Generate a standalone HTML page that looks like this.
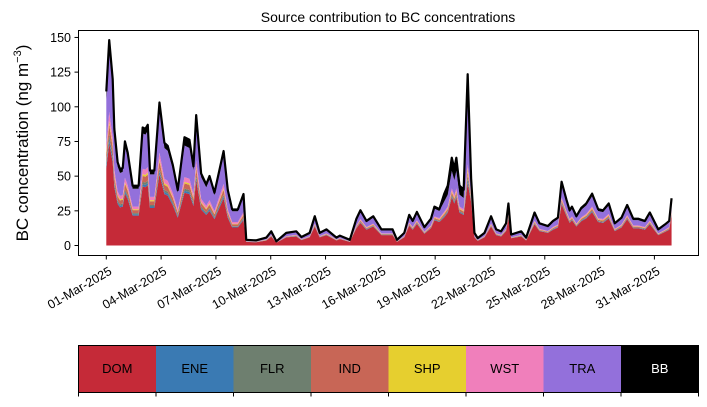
<!DOCTYPE html>
<html><head><meta charset="utf-8"><style>
body{margin:0;background:#fff;}
svg text{font-family:"Liberation Sans","DejaVu Sans",sans-serif;}
</style></head><body>
<svg id="chart" width="707" height="402" viewBox="0 0 707 402" xmlns="http://www.w3.org/2000/svg">
<text x="388" y="22" font-size="14" text-anchor="middle">Source contribution to BC concentrations</text>
<g id="areas"></g>
<g id="yaxis"></g>
<g id="xaxis"></g>
<rect x="78.5" y="30.5" width="620" height="225" fill="none" stroke="#000" stroke-width="1"/>
<text transform="translate(28,143) rotate(-90)" font-size="17" text-anchor="middle">BC concentration (ng m<tspan font-size="11" dy="-7">−3</tspan><tspan dy="7">)</tspan></text>
<g id="legend"></g>
</svg>
<script>
const tEarly=[0,0.16,0.35,0.44,0.62,0.75,0.90,1.02,1.17,1.44,1.77,1.99,2.14,2.27,2.39,2.63,2.91,3.18,3.36,3.64,3.91,4.28,4.55,4.77,4.92,5.19,5.47,5.65,5.92,6.42,6.65,6.89,7.20,7.51];
const tLate=[7.66,8.21,8.76,9.03,9.31,9.85,10.40,10.68,11.13,11.41,11.68,12.05,12.60,12.78,13.33,13.69,13.91,14.24,14.61,15.06,15.67,15.91,16.31,16.58,16.77,17.00,17.41,17.77,17.96,18.23,18.50,18.69,18.91,19.05,19.16,19.33,19.56,19.78,19.97,20.15,20.33,20.70,21.06,21.34,21.61,21.88,22.01,22.16,22.71,22.98,23.44,23.71,24.17,24.45,24.72,24.92,25.18,25.36,25.49,25.73,26.00,26.27,26.59,26.92,27.19,27.50,27.83,28.20,28.51,28.84,29.11,29.48,29.75,30.21,30.58,30.81,30.94];
const domE=[55.5,74,60,42,30,27.5,28,37.5,33.5,21.5,21.5,42.5,42,43.5,27,27,51.5,37,36,29,20,38,37,28.5,47,26,22,25,19,34,20,13,13,18.5];
const eneE=[2.2,3.0,2.4,1.7,1.2,1.1,1.1,1.5,1.3,0.9,0.9,1.7,1.7,1.7,1.1,1.1,2.1,1.5,1.4,1.2,0.8,1.5,1.5,1.1,1.9,1.0,0.9,1.0,0.8,1.4,0.8,0.5,0.5,0.7];
const flrE=[2.2,3.0,2.4,1.7,1.2,1.1,1.1,1.5,1.3,0.9,0.9,1.7,1.7,1.7,1.1,1.1,2.1,1.5,1.4,1.2,0.8,1.5,1.5,1.1,1.9,1.0,0.9,1.0,0.8,1.4,0.8,0.5,0.5,0.7];
const indE=[5.6,7.4,6.0,4.2,3.0,2.8,2.8,3.8,3.4,2.2,2.2,4.3,4.2,4.4,2.7,2.7,5.2,3.7,3.6,2.9,2.0,3.8,3.7,2.9,4.7,2.6,2.2,2.5,1.9,3.4,2.0,1.3,1.3,1.9];
const shpE=[1.7,2.2,1.8,1.3,0.9,0.8,0.8,1.1,1.0,0.6,0.6,1.3,1.3,1.3,0.8,0.8,1.5,1.1,1.1,0.9,0.6,1.1,1.1,0.9,1.4,0.8,0.7,0.8,0.6,1.0,0.6,0.4,0.4,0.6];
const wstE=[5.0,6.7,5.4,3.8,2.7,2.5,2.5,3.4,3.0,1.9,1.9,3.8,3.8,3.9,2.4,2.4,4.6,3.3,3.2,2.6,1.8,3.4,3.3,2.6,4.2,2.3,2.0,2.3,1.7,3.1,1.8,1.2,1.2,1.7];
const traE=[33.3,44.4,36,25.2,18,16.5,16.8,22.5,20.1,12.9,12.9,25.5,25.2,26.1,16.2,16.2,30.9,22.2,21.6,17.4,12,22.8,22.2,17.1,28.2,15.6,13.2,15,11.4,20.4,12,7.8,7.8,11.1];
const bbE=[5.6,7.4,6,4.2,3,2.8,2.8,3.8,3.4,2.2,2.2,4.3,4.2,4.4,2.7,2.7,5.2,3.7,3.6,2.9,2,6,6,2.9,4.7,2.6,2.2,2.5,1.9,3.4,2,1.3,1.3,1.9];
const domL=[2.6,2.3,3.6,6.5,2,5.9,6.5,3.9,5.9,13.7,5.9,7.5,3.6,4.6,2.6,12.4,16.3,11.4,13.7,7.5,7.5,2.6,5.9,14.3,11.4,15.6,8.5,12.4,18.2,16.9,20.4,23.7,34.7,30.3,34.7,23.7,22,45,31.2,5.9,3.3,5.9,13.7,7.5,6.5,10.4,19.5,5.2,6.5,3.6,15.3,10.4,9.1,11.4,13,29.7,21.5,16.3,18.2,13.7,17.6,19.5,24.1,16.9,16.3,19.5,10.4,13,18.9,12.4,12.4,11.4,15.3,7.5,9.8,11.4,22.1];
const eneL=[0.1,0.1,0.1,0.2,0,0.1,0.2,0.1,0.1,0.3,0.1,0.2,0.1,0.1,0.1,0.3,0.4,0.3,0.3,0.2,0.2,0.1,0.1,0.3,0.3,0.4,0.2,0.3,0.4,0.4,0.6,0.6,0.9,0.8,0.9,0.6,0.6,2.5,0.7,0.1,0.1,0.1,0.3,0.2,0.2,0.2,0.5,0.1,0.2,0.1,0.4,0.2,0.2,0.3,0.3,0.7,0.5,0.4,0.4,0.3,0.4,0.5,0.6,0.4,0.4,0.5,0.2,0.3,0.4,0.3,0.3,0.3,0.4,0.2,0.2,0.3,0.5];
const flrL=[0.1,0.1,0.1,0.2,0,0.1,0.2,0.1,0.1,0.3,0.1,0.2,0.1,0.1,0.1,0.3,0.4,0.3,0.3,0.2,0.2,0.1,0.1,0.3,0.3,0.4,0.2,0.3,0.4,0.4,0.6,0.6,0.9,0.8,0.9,0.6,0.6,2.5,0.7,0.1,0.1,0.1,0.3,0.2,0.2,0.2,0.5,0.1,0.2,0.1,0.4,0.2,0.2,0.3,0.3,0.7,0.5,0.4,0.4,0.3,0.4,0.5,0.6,0.4,0.4,0.5,0.2,0.3,0.4,0.3,0.3,0.3,0.4,0.2,0.2,0.3,0.5];
const indL=[0.1,0.1,0.2,0.3,0.1,0.3,0.3,0.2,0.3,0.6,0.3,0.3,0.2,0.2,0.1,0.6,0.8,0.5,0.6,0.3,0.3,0.1,0.3,0.7,0.5,0.7,0.4,0.6,0.8,0.8,1.1,1.3,1.9,1.7,1.9,1.3,1.2,3,1.4,0.3,0.2,0.3,0.6,0.3,0.3,0.5,0.9,0.2,0.3,0.2,0.7,0.5,0.4,0.5,0.6,1.4,1,0.8,0.8,0.6,0.8,0.9,1.1,0.8,0.8,0.9,0.5,0.6,0.9,0.6,0.6,0.5,0.7,0.3,0.5,0.5,1];
const shpL=[0.1,0.1,0.1,0.2,0,0.1,0.2,0.1,0.1,0.3,0.1,0.2,0.1,0.1,0.1,0.3,0.4,0.3,0.3,0.2,0.2,0.1,0.1,0.3,0.3,0.4,0.2,0.3,0.4,0.4,0.6,0.6,0.9,0.8,0.9,0.6,0.6,2.5,0.7,0.1,0.1,0.1,0.3,0.2,0.2,0.2,0.5,0.1,0.2,0.1,0.4,0.2,0.2,0.3,0.3,0.7,0.5,0.4,0.4,0.3,0.4,0.5,0.6,0.4,0.4,0.5,0.2,0.3,0.4,0.3,0.3,0.3,0.4,0.2,0.2,0.3,0.5];
const wstL=[0.1,0.1,0.2,0.3,0.1,0.3,0.3,0.2,0.3,0.6,0.3,0.3,0.2,0.2,0.1,0.6,0.8,0.5,0.6,0.3,0.3,0.1,0.3,0.7,0.5,0.7,0.4,0.6,0.8,0.8,1.1,1.3,1.9,1.7,1.9,1.3,1.2,3,1.4,0.3,0.2,0.3,0.6,0.3,0.3,0.5,0.9,0.2,0.3,0.2,0.7,0.5,0.4,0.5,0.6,1.4,1,0.8,0.8,0.6,0.8,0.9,1.1,0.8,0.8,0.9,0.5,0.6,0.9,0.6,0.6,0.5,0.7,0.3,0.5,0.5,1];
const traL=[0.8,0.7,1.1,2,0.6,1.8,2,1.2,1.8,4.2,1.8,2.3,1.1,1.4,0.8,3.8,5,3.5,4.2,2.3,2.3,0.8,1.8,4.4,3.5,4.8,2.6,3.8,5.6,5.2,7.4,8.6,12.6,11,12.6,8.6,8,55,9.6,1.8,1,1.8,4.2,2.3,2,3.2,6,1.6,2,1.1,4.7,3.2,2.8,3.5,4,9.1,6.6,5,5.6,4.2,5.4,6,7.4,5.2,5,6,3.2,4,5.8,3.8,3.8,3.5,4.7,2.3,3,3.5,6.8];
const bbL=[0.2,0.2,0.3,0.5,0.2,0.5,0.5,0.3,0.5,1.1,0.5,0.6,0.3,0.4,0.2,1,1.3,0.9,1.1,0.6,0.6,0.2,0.5,1.1,0.9,1.2,0.7,1,1.4,1.3,5.6,6.5,9.5,8.3,9.5,6.5,6,10,2.4,0.5,0.3,0.5,1.1,0.6,0.5,0.8,1.5,0.4,0.5,0.3,1.2,0.8,0.7,0.9,1,2.3,1.7,1.3,1.4,1.1,1.4,1.5,1.9,1.3,1.3,1.5,0.8,1,1.5,1,1,0.9,1.2,0.6,0.8,0.9,1.7];
const sourceNames=["DOM","ENE","FLR","IND","SHP","WST","TRA","BB"];
const sourceColors=["#c52a38","#3a7ab3","#6e7f6f","#c86656","#e6cf2f","#f07fbb","#9370db","#000000"];
const yTicks=[0,25,50,75,100,125,150];
const xTickDays=[0,3,6,9,12,15,18,21,24,27,30];
const xTickLabels=["01-Mar-2025","04-Mar-2025","07-Mar-2025","10-Mar-2025","13-Mar-2025","16-Mar-2025","19-Mar-2025","22-Mar-2025","25-Mar-2025","28-Mar-2025","31-Mar-2025"];

const NS="http://www.w3.org/2000/svg";
const xs=d=>106.3+d*18.27;
const ys=v=>245.5-v*1.387;
const times=tEarly.concat(tLate);
const series=[domE.concat(domL),eneE.concat(eneL),flrE.concat(flrL),indE.concat(indL),shpE.concat(shpL),wstE.concat(wstL),traE.concat(traL),bbE.concat(bbL)];
const areas=document.getElementById('areas');
let base=times.map(()=>0);
series.forEach((s,k)=>{
  const top=base.map((b,i)=>b+s[i]);
  let d='M'+times.map((t,i)=>xs(t).toFixed(2)+','+ys(top[i]).toFixed(2)).join('L');
  for(let i=times.length-1;i>=0;i--) d+='L'+xs(times[i]).toFixed(2)+','+ys(base[i]).toFixed(2);
  d+='Z';
  const p=document.createElementNS(NS,'path');
  p.setAttribute('d',d);p.setAttribute('fill',sourceColors[k]);
  
  
  areas.appendChild(p);
  base=top;
});
const line=document.createElementNS(NS,'path');
line.setAttribute('d','M'+times.map((t,i)=>xs(t).toFixed(2)+','+ys(base[i]).toFixed(2)).join('L'));
line.setAttribute('fill','none');line.setAttribute('stroke','#000');line.setAttribute('stroke-width','2.2');line.setAttribute('stroke-linejoin','round');


areas.appendChild(line);

const ya=document.getElementById('yaxis');
yTicks.forEach(v=>{
  const y=ys(v);
  const l=document.createElementNS(NS,'line');
  l.setAttribute('x1',74.5);l.setAttribute('x2',78.5);l.setAttribute('y1',y);l.setAttribute('y2',y);l.setAttribute('stroke','#000');
  
  
  ya.appendChild(l);
  const tx=document.createElementNS(NS,'text');
  tx.setAttribute('x',71);tx.setAttribute('y',y+4.5);tx.setAttribute('font-size','12.5');tx.setAttribute('text-anchor','end');
  tx.textContent=v;
  
  
  ya.appendChild(tx);
});
const xa=document.getElementById('xaxis');
xTickDays.forEach((d,i)=>{
  const x=xs(d);
  const l=document.createElementNS(NS,'line');
  l.setAttribute('x1',x);l.setAttribute('x2',x);l.setAttribute('y1',255.5);l.setAttribute('y2',259.5);l.setAttribute('stroke','#000');
  
  
  xa.appendChild(l);
  const tx=document.createElementNS(NS,'text');
  tx.setAttribute('transform','translate('+(x+2)+',266) rotate(-30)');
  tx.setAttribute('font-size','12.5');tx.setAttribute('text-anchor','end');tx.setAttribute('dy','0.7em');
  tx.textContent=xTickLabels[i];
  
  
  xa.appendChild(tx);
});
const lg=document.getElementById('legend');
const w=620/sourceNames.length;
sourceNames.forEach((n,i)=>{
  const x=78.5+i*w;
  const r=document.createElementNS(NS,'rect');
  r.setAttribute('x',x);r.setAttribute('y',345.5);r.setAttribute('width',w);r.setAttribute('height',47);r.setAttribute('fill',sourceColors[i]);
  
  
  lg.appendChild(r);
  const tx=document.createElementNS(NS,'text');
  tx.setAttribute('x',x+w/2);tx.setAttribute('y',373);tx.setAttribute('font-size','13');tx.setAttribute('text-anchor','middle');
  tx.setAttribute('fill',n==='BB'?'#fff':'#000');
  tx.textContent=n;
  
  
  lg.appendChild(tx);
});
for(let i=0;i<=sourceNames.length;i++){
  const x=78.5+i*w;
  const l=document.createElementNS(NS,'line');
  l.setAttribute('x1',x);l.setAttribute('x2',x);l.setAttribute('y1',392.5);l.setAttribute('y2',396.5);l.setAttribute('stroke','#000');
  
  
  lg.appendChild(l);
}
const fr=document.createElementNS(NS,'rect');
fr.setAttribute('x',78.5);fr.setAttribute('y',345.5);fr.setAttribute('width',620);fr.setAttribute('height',47);fr.setAttribute('fill','none');fr.setAttribute('stroke','#000');


lg.appendChild(fr);
</script>
</body></html>
